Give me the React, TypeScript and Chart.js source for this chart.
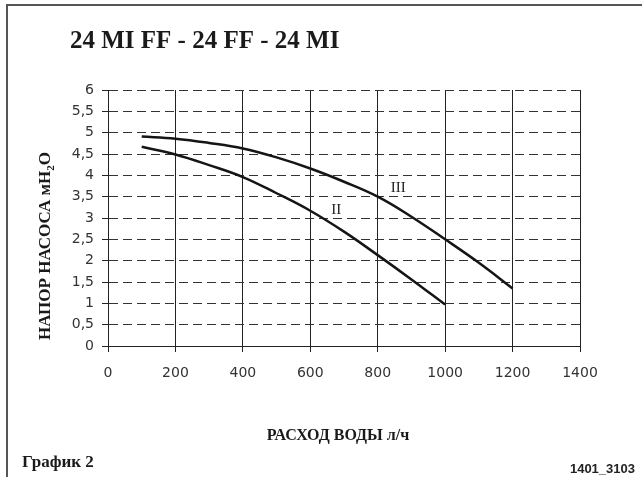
import React, { useEffect, useRef } from "react";
import { Chart, registerables } from "chart.js";

Chart.register(...registerables);

// ---- data ----
const titleText = "24 MI FF - 24 FF - 24 MI";
const yTitleMain = "НАПОР НАСОСА мН";
const yTitleSub = "2";
const yTitleEnd = "О";
const xTitleText = "РАСХОД ВОДЫ л/ч";
const footLeft = "График 2";
const footRight = "1401_3103";

const flowII = [100, 200, 300, 400, 500, 600, 700, 800, 900, 1000];
const headII = [4.67, 4.49, 4.24, 3.96, 3.58, 3.17, 2.68, 2.13, 1.56, 0.97];
const flowIII = [100, 200, 300, 400, 500, 600, 700, 800, 900, 1000, 1100, 1200];
const headIII = [4.91, 4.86, 4.76, 4.63, 4.42, 4.16, 3.85, 3.5, 3.03, 2.5, 1.95, 1.35];

const curveLabels = ["II", "III"];
const curveLabelX = [677, 861];
const curveLabelY = [3.19, 3.71];

const xMin = 0;
const xMax = 1400;
const xStep = 200;
const yMin = 0;
const yMax = 6;
const yStep = 0.5;

const decorPlugin = {
  id: "decor",
  afterDraw(chart: any) {
    const ctx = chart.ctx as CanvasRenderingContext2D;
    const xs = chart.scales.x;
    const ys = chart.scales.y;
    ctx.save();
    // frame lines
    ctx.fillStyle = "#555";
    ctx.fillRect(6, 4, 2, 473);
    ctx.fillRect(6, 4, 636, 2);

    // title
    ctx.fillStyle = "#1a1a1a";
    ctx.textBaseline = "middle";
    ctx.textAlign = "left";
    ctx.font = "bold 25px 'Liberation Serif'";
    ctx.fillText(titleText, 70, 42);

    // x title
    ctx.textAlign = "center";
    ctx.font = "bold 16px 'Liberation Serif'";
    ctx.fillText(xTitleText, 338, 436);

    // footers
    ctx.textAlign = "left";
    ctx.font = "bold 17px 'Liberation Serif'";
    ctx.fillText(footLeft, 22, 463);
    ctx.textAlign = "right";
    ctx.font = "bold 13px 'Liberation Sans'";
    ctx.fillStyle = "#222";
    ctx.fillText(footRight, 635, 469);

    // y title (rotated, with subscript)
    ctx.save();
    ctx.translate(46, 246);
    ctx.rotate(-Math.PI / 2);
    ctx.fillStyle = "#1a1a1a";
    ctx.textAlign = "left";
    const mainFont = "bold 17px 'Liberation Serif'";
    const subFont = "bold 11px 'Liberation Serif'";
    ctx.font = mainFont;
    const w1 = ctx.measureText(yTitleMain).width;
    const w3 = ctx.measureText(yTitleEnd).width;
    ctx.font = subFont;
    const w2 = ctx.measureText(yTitleSub).width;
    const total = w1 + w2 + w3;
    let px = -total / 2;
    ctx.font = mainFont;
    ctx.fillText(yTitleMain, px, 0);
    px += w1;
    ctx.font = subFont;
    ctx.fillText(yTitleSub, px, 5);
    px += w2;
    ctx.font = mainFont;
    ctx.fillText(yTitleEnd, px, 0);
    ctx.restore();

    // curve labels
    ctx.fillStyle = "#222";
    ctx.textAlign = "center";
    ctx.textBaseline = "middle";
    ctx.font = "15px 'Liberation Serif'";
    for (let i = 0; i < curveLabels.length; i++) {
      ctx.fillText(
        curveLabels[i],
        xs.getPixelForValue(curveLabelX[i]),
        ys.getPixelForValue(curveLabelY[i])
      );
    }
    ctx.restore();
  },
};

export default function App() {
  const ref = useRef<HTMLCanvasElement | null>(null);
  useEffect(() => {
    if (!ref.current) return;
    const mk = (xs: number[], ys: number[]) => xs.map((x, i) => ({ x, y: ys[i] }));
    const chart = new Chart(ref.current, {
      type: "line",
      data: {
        datasets: [
          {
            label: "II",
            data: mk(flowII, headII),
            borderColor: "#151515",
            borderWidth: 2.5,
            pointRadius: 0,
            tension: 0.4,
            fill: false,
          },
          {
            label: "III",
            data: mk(flowIII, headIII),
            borderColor: "#151515",
            borderWidth: 2.5,
            pointRadius: 0,
            tension: 0.4,
            fill: false,
          },
        ],
      },
      options: {
        animation: false,
        responsive: false,
        devicePixelRatio: 1,
        layout: { padding: { left: 0, top: 90, right: 62, bottom: 0 } },
        plugins: { legend: { display: false }, tooltip: { enabled: false } },
        scales: {
          x: {
            type: "linear",
            min: xMin,
            max: xMax,
            afterFit: (s: any) => {
              s.height = 131;
            },
            ticks: {
              stepSize: xStep,
              color: "#333",
              font: { family: "'DejaVu Sans'", size: 14 },
              padding: 13,
              maxRotation: 0,
              callback: (v: any) => String(v),
            },
            grid: { color: "#222", lineWidth: 1, tickLength: 6, tickColor: "#222" },
            border: { color: "#222", width: 1 },
          },
          y: {
            type: "linear",
            min: yMin,
            max: yMax,
            afterFit: (s: any) => {
              s.width = 108;
            },
            ticks: {
              stepSize: yStep,
              color: "#333",
              font: { family: "'DejaVu Sans'", size: 14 },
              padding: 8,
              callback: (v: any) => String(v).replace(".", ","),
            },
            grid: { color: "#333", lineWidth: 1, tickLength: 6, tickColor: "#222" },
            border: { color: "#222", width: 1, dash: [9, 5] },
          },
        },
      },
      plugins: [decorPlugin],
    });
    return () => chart.destroy();
  }, []);
  return (
    <div style={{ position: "absolute", left: 0, top: 0, width: 642, height: 477, background: "#fff" }}>
      <canvas ref={ref} width={642} height={477} />
    </div>
  );
}
